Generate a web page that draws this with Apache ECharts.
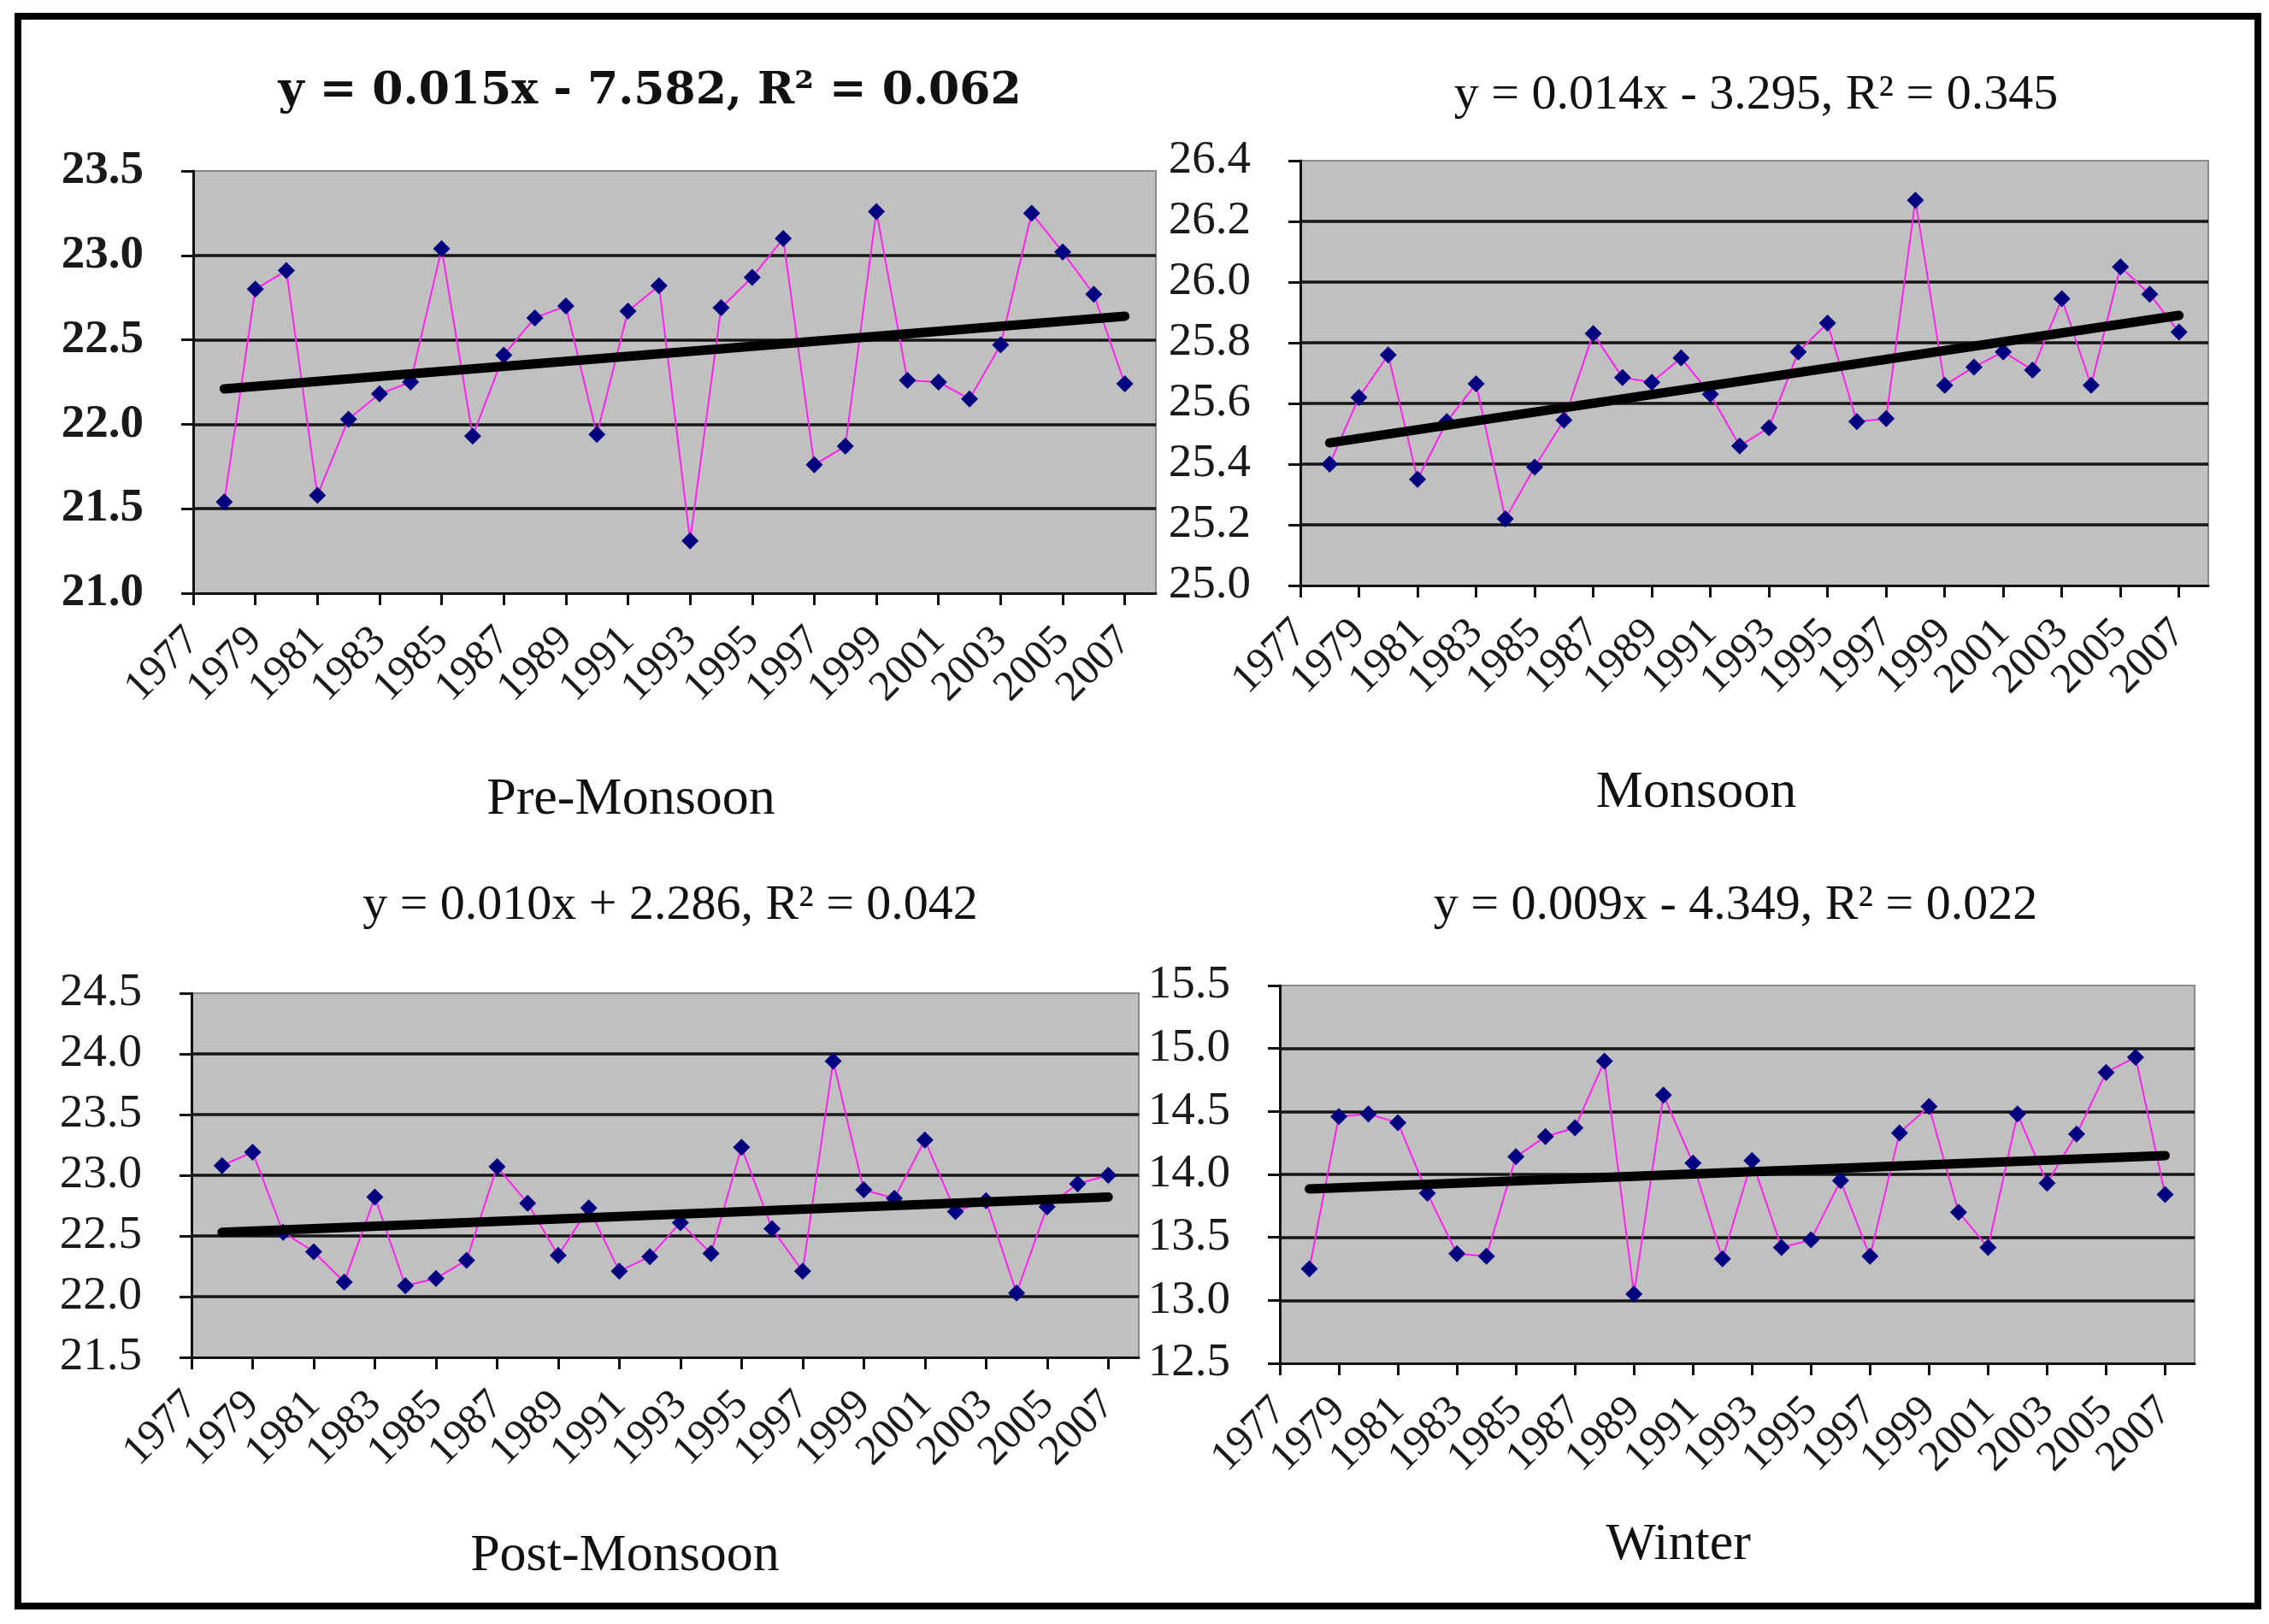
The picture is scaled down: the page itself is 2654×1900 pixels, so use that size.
<!DOCTYPE html>
<html>
<head>
<meta charset="utf-8">
<script src="https://cdn.jsdelivr.net/npm/echarts@6/dist/echarts.min.js"></script>
<style>
html,body{margin:0;padding:0;background:#fff;}
#chart{width:2654px;height:1900px;}
</style>
</head>
<body>
<div id="chart"></div>
<script>
// Axis categories (years) and data years
const categories = ['1977','1978','1979','1980','1981','1982','1983','1984','1985','1986','1987','1988','1989','1990','1991','1992','1993','1994','1995','1996','1997','1998','1999','2000','2001','2002','2003','2004','2005','2006','2007','2008'];
const tickLabels = ['1977','1979','1981','1983','1985','1987','1989','1991','1993','1995','1997','1999','2001','2003','2005','2007'];
const dataYears = ['1978','1979','1980','1981','1982','1983','1984','1985','1986','1987','1988','1989','1990','1991','1992','1993','1994','1995','1996','1997','1998','1999','2000','2001','2002','2003','2004','2005','2006','2007'];
const trendYears = ['1978','2007'];

// Series values (1978-2007)
const preMonsoon = [21.54,22.80,22.91,21.58,22.03,22.18,22.25,23.04,21.93,22.41,22.63,22.70,21.94,22.67,22.82,21.31,22.69,22.87,23.10,21.76,21.87,23.26,22.26,22.25,22.15,22.47,23.25,23.02,22.77,22.24];
const monsoon = [25.40,25.62,25.76,25.35,25.54,25.665,25.22,25.39,25.545,25.83,25.685,25.67,25.75,25.63,25.46,25.52,25.77,25.865,25.54,25.55,26.27,25.66,25.72,25.77,25.71,25.945,25.66,26.05,25.96,25.835];
const postMonsoon = [23.08,23.19,22.53,22.37,22.12,22.82,22.09,22.15,22.30,23.07,22.77,22.34,22.73,22.21,22.33,22.61,22.355,23.23,22.56,22.21,23.94,22.88,22.81,23.29,22.70,22.79,22.03,22.74,22.93,23.00];
const winter = [13.25,14.46,14.48,14.41,13.85,13.37,13.35,14.14,14.30,14.37,14.90,13.05,14.63,14.09,13.33,14.11,13.42,13.48,13.95,13.35,14.33,14.54,13.70,13.42,14.48,13.93,14.32,14.81,14.93,13.84];

// Trend line end values
const trendPre = [22.21, 22.64];
const trendMonsoon = [25.47, 25.89];
const trendPost = [22.53, 22.82];
const trendWinter = [13.885, 14.15];

// Titles
const equations = ['y = 0.015x - 7.582, R\u00B2 = 0.062','y = 0.014x - 3.295, R\u00B2 = 0.345','y = 0.010x + 2.286, R\u00B2 = 0.042','y = 0.009x - 4.349, R\u00B2 = 0.022'];
const seasons = ['Pre-Monsoon','Monsoon','Post-Monsoon','Winter'];

// Y-axis scales
const yMin = [21.0, 25.0, 21.5, 12.5];
const yMax = [23.5, 26.4, 24.5, 15.5];
const yStep = [0.5, 0.2, 0.5, 0.5];

const panels = [
  {vals: preMonsoon, trend: trendPre, grid:{left:226, top:200, width:1126, height:494}},
  {vals: monsoon, trend: trendMonsoon, grid:{left:1521, top:188, width:1062, height:497}},
  {vals: postMonsoon, trend: trendPost, grid:{left:224, top:1162, width:1108, height:426}},
  {vals: winter, trend: trendWinter, grid:{left:1497, top:1153, width:1070, height:442}}
];
const titlePos = [[760,107],[2054,112],[784,1060],[2030,1060]];
const seasonPos = [[738,936],[1984,928],[731,1821],[1963,1808]];

const FONT = '"Liberation Serif", "Times New Roman", serif';
const isTickCat = (idx) => tickLabels.indexOf(categories[idx]) !== -1;
const grids = [], xAxes = [], yAxes = [], series = [], titles = [];

panels.forEach((p, i) => {
  grids.push(Object.assign({show:true, backgroundColor:'#c0c0c0', borderColor:'#8a8a8a', borderWidth:2, containLabel:false}, p.grid));
  xAxes.push({
    type:'category', gridIndex:i, data:categories, boundaryGap:false,
    axisLine:{show:true, onZero:false, lineStyle:{color:'#111', width:3}},
    axisTick:{show:true, interval:(idx) => isTickCat(idx), length:14, lineStyle:{color:'#111', width:3}},
    axisLabel:{interval:0, rotate:45, fontFamily:FONT, fontSize:50, color:'#1a1a1a', margin:48,
      hideOverlap:false,
      formatter:(v) => (tickLabels.indexOf(v) !== -1 ? v : '')},
    splitLine:{show:false}
  });
  yAxes.push({
    type:'value', gridIndex:i, min:yMin[i], max:yMax[i], interval:yStep[i],
    axisLine:{show:true, lineStyle:{color:'#111', width:3}},
    axisTick:{show:true, length:14, lineStyle:{color:'#111', width:3}},
    axisLabel:{fontFamily:FONT, fontSize:55, color:'#1a1a1a', margin:58, fontWeight: i===0?'bold':'normal',
      showMinLabel:true, showMaxLabel:true, hideOverlap:false,
      formatter: v => v.toFixed(1)},
    splitLine:{show:true, showMinLine:false, showMaxLine:false, lineStyle:{color:'#151515', width:3.5}}
  });
  series.push({
    type:'line', xAxisIndex:i, yAxisIndex:i,
    data: dataYears.map((y, k) => [y, p.vals[k]]),
    symbol:'diamond', symbolSize:[20,20], showSymbol:true,
    itemStyle:{color:'#000080'},
    lineStyle:{color:'#ff22ee', width:2},
    z:2
  });
  series.push({
    type:'line', xAxisIndex:i, yAxisIndex:i,
    data: trendYears.map((y, k) => [y, p.trend[k]]),
    symbol:'none', lineStyle:{color:'#000', width:11, cap:'round'},
    z:3
  });
  titles.push({
    text: equations[i], left: titlePos[i][0], top: titlePos[i][1], padding:0,
    textAlign:'center', textVerticalAlign:'middle',
    textStyle: i===0
      ? {fontFamily:'"DejaVu Serif", serif', fontSize:52, fontWeight:'bold', color:'#111'}
      : {fontFamily:FONT, fontSize:58, fontWeight:'normal', color:'#111'}
  });
  titles.push({
    text: seasons[i], left: seasonPos[i][0], top: seasonPos[i][1], padding:0,
    textAlign:'center', textVerticalAlign:'middle',
    textStyle:{fontFamily:FONT, fontSize:62, fontWeight:'normal', color:'#111'}
  });
});

const chart = echarts.init(document.getElementById('chart'));
chart.setOption({
  backgroundColor:'#ffffff',
  animation:false,
  title: titles,
  grid: grids,
  xAxis: xAxes,
  yAxis: yAxes,
  series: series,
  graphic:[{
    type:'rect', silent:true, z:-1,
    shape:{x:21, y:19, width:2620, height:1860},
    style:{fill:'none', stroke:'#000', lineWidth:8}
  }]
});
</script>
</body>
</html>
